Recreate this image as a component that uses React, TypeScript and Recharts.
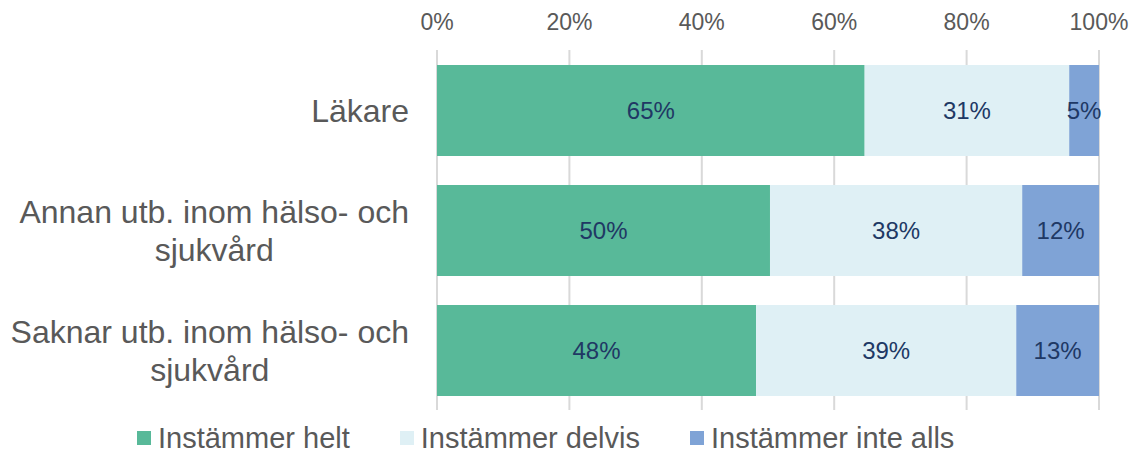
import React from 'react';
import {
  BarChart, Bar, XAxis, YAxis, CartesianGrid, Legend, LabelList,
} from 'recharts';

const categories = [
  'Läkare',
  'Annan utb. inom hälso- och\nsjukvård',
  'Saknar utb. inom hälso- och\nsjukvård',
];
const helt = [64.6, 50.3, 48.2];
const delvis = [30.9, 38.1, 39.3];
const inteAlls = [4.5, 11.6, 12.5];
const xTicks = [0, 20, 40, 60, 80, 100];

const series = [
  { key: 'helt', name: 'Instämmer helt', color: '#58b999' },
  { key: 'delvis', name: 'Instämmer delvis', color: '#dff0f5' },
  { key: 'inteAlls', name: 'Instämmer inte alls', color: '#7fa3d6' },
];

const data = categories.map((c, i) => ({
  category: c,
  helt: helt[i],
  delvis: delvis[i],
  inteAlls: inteAlls[i],
}));

const FONT = '"Liberation Sans", Arial, sans-serif';

let ctx: CanvasRenderingContext2D | null = null;
function measure(text: string, size: number) {
  if (!ctx) ctx = document.createElement('canvas').getContext('2d');
  if (!ctx) return text.length * size * 0.5;
  ctx.font = `${size}px ${FONT}`;
  return ctx.measureText(text).width;
}

const CategoryTick = (props: any) => {
  const { x, y, payload } = props;
  const lines: string[] = String(payload.value).split('\n');
  const size = 32;
  const lh = 38;
  const widest = Math.max(...lines.map((l) => measure(l, size)));
  const cx = x - widest / 2;
  const top = y - ((lines.length - 1) * lh) / 2 + 1;
  return (
    <g>
      {lines.map((l, i) => (
        <text key={i} x={cx} y={top + i * lh} textAnchor="middle" dominantBaseline="central"
          fontSize={size} fontFamily={FONT} fill="#595959">
          {l}
        </text>
      ))}
    </g>
  );
};

const LegendContent = () => (
  <div style={{ display: 'flex', justifyContent: 'flex-start', paddingLeft: 137, paddingTop: 13, fontFamily: FONT }}>
    {series.map((s) => (
      <div key={s.key} style={{ display: 'flex', alignItems: 'center', marginRight: 50 }}>
        <span style={{ width: 14, height: 14, background: s.color, marginRight: 7, display: 'inline-block' }} />
        <span style={{ fontSize: 29, color: '#595959', lineHeight: '30px' }}>{s.name}</span>
      </div>
    ))}
  </div>
);

export default function App() {
  return (
    <div style={{ position: 'absolute', left: 0, top: 0, background: '#fff' }}>
      <BarChart width={1138} height={452} data={data} layout="vertical"
        margin={{ top: 0, right: 39, bottom: 0, left: 0 }} barSize={91}>
        <CartesianGrid horizontal={false} stroke="#d9d9d9" strokeWidth={2} />
        <XAxis type="number" orientation="top" domain={[0, 100]} ticks={xTicks}
          allowDataOverflow height={50} axisLine={false} tickLine={false} tickMargin={14}
          tickFormatter={(v: number) => `${v}%`}
          tick={{ fontSize: 23, fill: '#595959', fontFamily: FONT }} />
        <YAxis type="category" dataKey="category" width={437} axisLine={false}
          tickLine={false} tickMargin={22} tick={<CategoryTick />} interval={0} />
        <Legend verticalAlign="bottom" height={42} content={<LegendContent />} />
        {series.map((s) => (
          <Bar key={s.key} dataKey={s.key} name={s.name} stackId="a" fill={s.color}
            isAnimationActive={false}>
            <LabelList dataKey={s.key} position="center"
              formatter={(v: any) => `${Math.round(Number(v))}%`}
              style={{ fontSize: 24, fill: '#203864', fontFamily: FONT }} />
          </Bar>
        ))}
      </BarChart>
    </div>
  );
}
